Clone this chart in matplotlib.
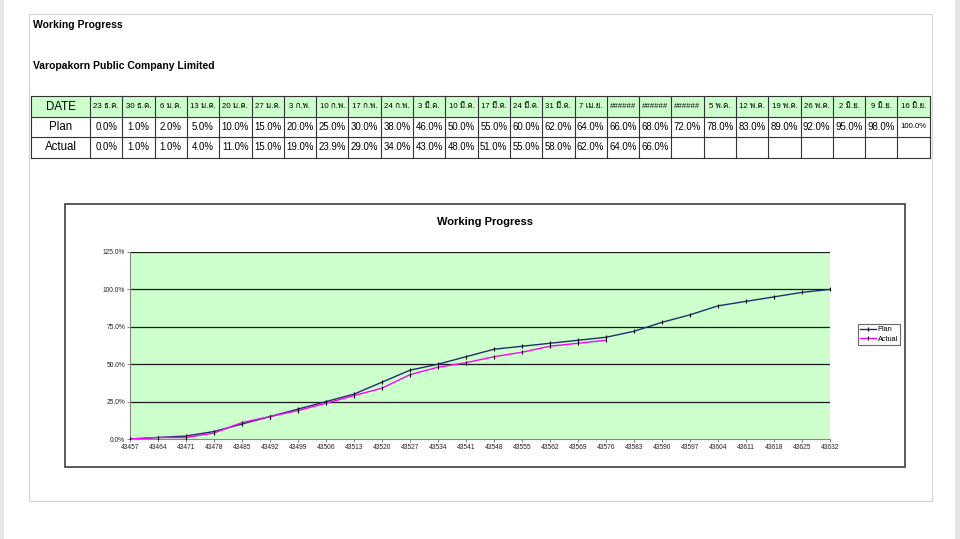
import matplotlib
matplotlib.use("Agg")
import matplotlib.pyplot as plt
from matplotlib.patches import Rectangle
from matplotlib import font_manager
from matplotlib.ft2font import FT2Font

# ── data ──
date_labels = ["23 ธ.ค.", "30 ธ.ค.", "6 ม.ค.", "13 ม.ค.", "20 ม.ค.", "27 ม.ค.",
               "3 ก.พ.", "10 ก.พ.", "17 ก.พ.", "24 ก.พ.", "3 มี.ค.", "10 มี.ค.",
               "17 มี.ค.", "24 มี.ค.", "31 มี.ค.", "7 เม.ย.", "######", "######",
               "######", "5 พ.ค.", "12 พ.ค.", "19 พ.ค.", "26 พ.ค.", "2 มิ.ย.",
               "9 มิ.ย.", "16 มิ.ย."]
serials = [43457, 43464, 43471, 43478, 43485, 43492, 43499, 43506, 43513,
           43520, 43527, 43534, 43541, 43548, 43555, 43562, 43569, 43576,
           43583, 43590, 43597, 43604, 43611, 43618, 43625, 43632]
plan = [0.0, 1.0, 2.0, 5.0, 10.0, 15.0, 20.0, 25.0, 30.0, 38.0, 46.0, 50.0,
        55.0, 60.0, 62.0, 64.0, 66.0, 68.0, 72.0, 78.0, 83.0, 89.0, 92.0,
        95.0, 98.0, 100.0]
actual = [0.0, 1.0, 1.0, 4.0, 11.0, 15.0, 19.0, 23.9, 29.0, 34.0, 43.0, 48.0,
          51.0, 55.0, 58.0, 62.0, 64.0, 66.0]
y_ticks = [0, 25, 50, 75, 100, 125]


def find_thai_font():
    for f in font_manager.fontManager.ttflist:
        try:
            if ord("ม") in FT2Font(f.fname).get_charmap():
                return f.name
        except Exception:
            pass
    return None


thai = find_thai_font()
fams = ["Liberation Sans"] + ([thai] if thai else []) + ["DejaVu Sans"]
plt.rcParams["font.family"] = fams

W, H = 960, 539
fig = plt.figure(figsize=(W / 100, H / 100), dpi=100)
fig.patch.set_facecolor("white")

# pixel-coordinate background layer
bg = fig.add_axes([0, 0, 1, 1])
bg.set_xlim(0, W)
bg.set_ylim(H, 0)
bg.axis("off")

bg.add_patch(Rectangle((0, 0), 4, H, facecolor="#e6e6e6", edgecolor="none"))
bg.add_patch(Rectangle((955, 0), 5, H, facecolor="#e6e6e6", edgecolor="none"))
bg.add_patch(Rectangle((29, 14), 903, 487, facecolor="white",
                       edgecolor="#d4d4d4", lw=0.8))

bg.text(33, 25, "Working Progress", fontsize=7.5, fontweight="bold", va="center")
bg.text(33, 66, "Varopakorn Public Company Limited", fontsize=7.5,
        fontweight="bold", va="center")

# ── table ──
x0, first_w, col_w = 31, 59, 32.3
row_y = [96, 117, 137, 158]
ncols = len(date_labels)
border = "#333333"
bg.add_patch(Rectangle((x0, row_y[0]), first_w + col_w * ncols,
                       row_y[1] - row_y[0], facecolor="#ccffcc", edgecolor="none"))
for yy in row_y:
    bg.plot([x0, x0 + first_w + col_w * ncols], [yy, yy], color=border, lw=0.8)
for i in range(ncols + 2):
    xx = x0 if i == 0 else x0 + first_w + col_w * (i - 1)
    bg.plot([xx, xx], [row_y[0], row_y[-1]], color=border, lw=0.8)

row_names = ["DATE", "Plan", "Actual"]
for r, name in enumerate(row_names):
    bg.text(x0 + first_w / 2, (row_y[r] + row_y[r + 1]) / 2, name,
            ha="center", va="center", fontsize=8.3)

for i, lab in enumerate(date_labels):
    cx = x0 + first_w + col_w * (i + 0.5)
    bg.text(cx, (row_y[0] + row_y[1]) / 2, lab, ha="center", va="center",
            fontsize=5.7)
    pv = f"{plan[i]:.1f}%"
    bg.text(cx, (row_y[1] + row_y[2]) / 2, pv, ha="center", va="center",
            fontsize=5.6 if plan[i] >= 100 else 6.9)
    if i < len(actual):
        bg.text(cx, (row_y[2] + row_y[3]) / 2, f"{actual[i]:.1f}%",
                ha="center", va="center", fontsize=6.9)

# chart frame
bg.add_patch(Rectangle((65, 204), 840, 263, facecolor="white",
                       edgecolor="#404040", lw=1.2))
bg.text(485, 222, "Working Progress", fontsize=8, fontweight="bold",
        ha="center", va="center")

# ── chart ──
L, T, R, B = 130, 252, 830, 439
ax = fig.add_axes([L / W, 1 - B / H, (R - L) / W, (B - T) / H])
ax.set_facecolor("#ccffcc")
ax.set_xlim(serials[0], serials[-1])
ax.set_ylim(0, 125)
for yv in y_ticks[1:]:
    ax.axhline(yv, color="#1a1a1a", lw=0.9, zorder=1)

ax.plot(serials, plan, color="#1f2f6b", lw=1.0, marker="|", ms=3,
        mec="black", mew=0.8, label="Plan", zorder=3)
ax.plot(serials[:len(actual)], actual, color="#ff00ff", lw=1.0, marker="|",
        ms=3, mec="black", mew=0.8, label="Actual", zorder=3)

ax.set_xticks(serials)
ax.set_xticklabels([str(s) for s in serials], fontsize=4.8, color="#222222")
ax.set_yticks(y_ticks)
ax.set_yticklabels([f"{v:.1f}%" for v in y_ticks], fontsize=4.8,
                   color="#222222")
ax.tick_params(length=2, width=0.5, colors="#555555", pad=1.5,
               labelcolor="#222222")
for s in ["top", "right"]:
    ax.spines[s].set_visible(False)
for s in ["left", "bottom"]:
    ax.spines[s].set_color("#888888")
    ax.spines[s].set_linewidth(0.8)

leg = ax.legend(loc="center left", bbox_to_anchor=(1.04, 0.56), fontsize=5.3,
                frameon=True, fancybox=False, edgecolor="#444444",
                handlelength=2.2, handletextpad=0.2, borderpad=0.3,
                labelspacing=0.3, borderaxespad=0)
leg.get_frame().set_linewidth(0.8)

fig.savefig("out.png", dpi=100)
